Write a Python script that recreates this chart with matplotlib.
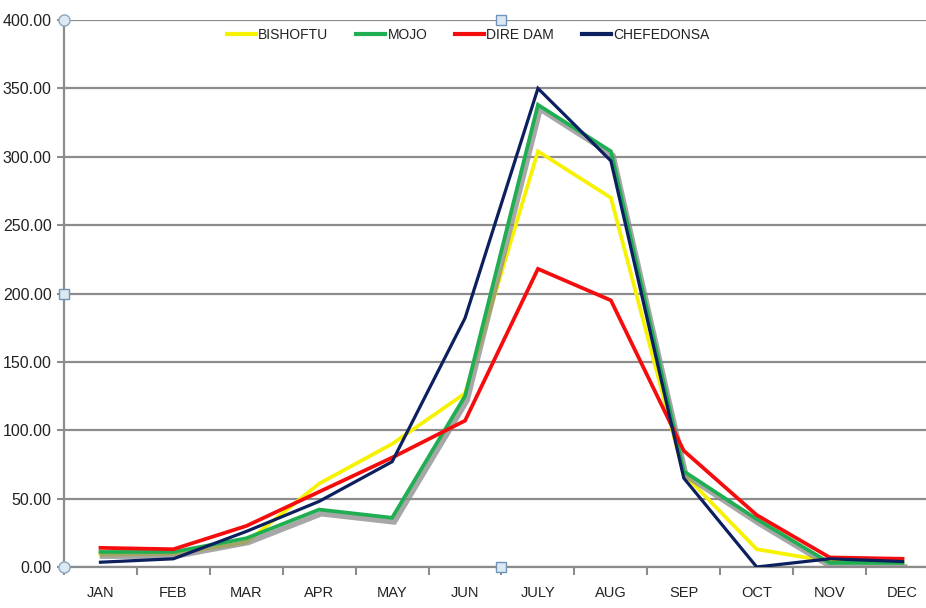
import numpy as np
import matplotlib
matplotlib.use("Agg")
import matplotlib.pyplot as plt
import matplotlib.patheffects as pe
from matplotlib.lines import Line2D

months = ["JAN", "FEB", "MAR", "APR", "MAY", "JUN", "JULY", "AUG", "SEP", "OCT", "NOV", "DEC"]
bishoftu = [9, 9.5, 18, 61, 90, 127, 304, 270, 68, 13, 4, 3]
mojo = [11, 11, 21, 42, 36, 125, 338, 304, 70, 35, 3, 3]
dire_dam = [14, 13, 30, 55, 80, 107, 218, 195, 85, 38, 7, 6]
chefedonsa = [3.5, 6, 26, 48, 77, 182, 350, 297, 65, 0, 6, 4]

series = [
    ("BISHOFTU", bishoftu, "#f7f200"),
    ("MOJO", mojo, "#1fae52"),
    ("DIRE DAM", dire_dam, "#f50d0d"),
    ("CHEFEDONSA", chefedonsa, "#0c1f5e"),
]

plt.rcParams["font.family"] = ["Liberation Sans", "DejaVu Sans"]
plt.rcParams["text.color"] = "#222222"

fig = plt.figure(figsize=(9.26, 6.08), dpi=100)
ax = fig.add_axes([64 / 926, 41 / 608, 875 / 926, 547 / 608])

x = np.arange(len(months))
handles = []
for name, vals, col in series:
    lw = 2.7 if name != "CHEFEDONSA" else 2.3
    effects = None
    if name == "MOJO":
        effects = [pe.SimpleLineShadow(offset=(1.5, -3), shadow_color="#8a8a8a", alpha=0.75, linewidth=4),
                   pe.Normal()]
    ax.plot(x, vals, color=col, lw=lw, path_effects=effects, solid_joinstyle="miter", zorder=3)
    handles.append(Line2D([], [], color=col, lw=3, label=name))

ax.set_xlim(-0.5, 11.5)
ax.set_ylim(0, 400)
ax.set_yticks(np.arange(0, 401, 50))
ax.set_yticklabels([f"{v:.2f}" for v in range(0, 401, 50)], fontsize=11.5, color="#222222")
ax.set_xticks(x)
ax.set_xticklabels(months, fontsize=10.5, color="#222222")
ax.set_xticks(np.arange(-0.5, 12, 1), minor=True)
ax.tick_params(axis="x", which="major", length=0, pad=14)
ax.tick_params(axis="x", which="minor", length=6, color="#8c8c8c", width=1.5)
ax.tick_params(axis="y", length=5, color="#8c8c8c", width=1.5, pad=4)

ax.grid(axis="y", color="#8c8c8c", lw=1.6, zorder=0)
for s in ["top", "right"]:
    ax.spines[s].set_visible(False)
ax.spines["left"].set_color("#8c8c8c")
ax.spines["left"].set_linewidth(1.6)
ax.spines["bottom"].set_color("#8c8c8c")
ax.spines["bottom"].set_linewidth(1.6)

# chart selection handles
ax.plot([-0.5, -0.5], [0, 400], "o", ms=8, mfc="#dce8f2", mec="#8aa6be", clip_on=False, zorder=5)
ax.plot([5.5, 5.5, -0.5], [0, 400, 200], "s", ms=7, mfc="#dce8f2", mec="#6f94b8", clip_on=False, zorder=5)

ax.legend(handles=handles, loc="upper center", bbox_to_anchor=(0.462, 1.008), ncol=4, frameon=False,
          fontsize=10, handlelength=2.1, handletextpad=0.15, columnspacing=2.0)

fig.savefig("out.png", dpi=100)
